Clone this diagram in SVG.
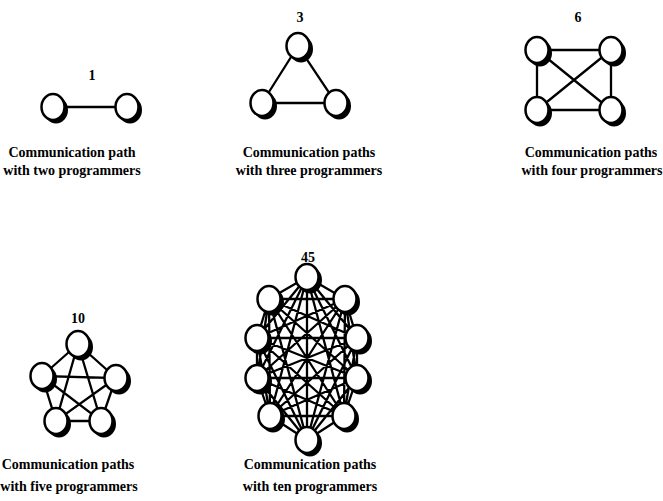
<svg xmlns="http://www.w3.org/2000/svg" xmlns:xlink="http://www.w3.org/1999/xlink" width="663" height="501" viewBox="0 0 663 501">
<style>
.lbl{font-family:"Liberation Serif","Times New Roman",serif;font-weight:bold;font-size:14px;fill:#000;text-anchor:middle}
.num{font-family:"Liberation Serif","Times New Roman",serif;font-weight:bold;font-size:14px;fill:#000;text-anchor:middle}
.e{stroke:#000;stroke-width:2.3;fill:none;stroke-linecap:round}
</style>
<defs>
<g id="nd">
<ellipse cx="3" cy="3" rx="12" ry="13.5" fill="#000"/>
<ellipse cx="0" cy="0" rx="11.5" ry="13" fill="#fff" stroke="#000" stroke-width="2.5"/>
</g>
</defs>
<rect width="663" height="501" fill="#fff"/>
<g id="connectors">
<path class="e" d="M53 107L127 107"/>
<path class="e" d="M298 46L262 103L336 103Z"/>
<path class="e" d="M537 50L611 50L611 110L537 110ZM537 50L611 110M611 50L537 110"/>
<path class="e" d="M78 344L42 376L56 421L101 421L116 378ZM78 344L56 421L116 378L42 376L101 421Z"/>
<path class="e" d="M307 277L269 299M307 277L345 299M307 277L257 338M307 277L357 338M307 277L257 378M307 277L357 378M307 277L270 416M307 277L344 416M307 277L307 440M269 299L345 299M269 299L257 338M269 299L357 338M269 299L257 378M269 299L357 378M269 299L270 416M269 299L344 416M269 299L307 440M345 299L257 338M345 299L357 338M345 299L257 378M345 299L357 378M345 299L270 416M345 299L344 416M345 299L307 440M257 338L357 338M257 338L257 378M257 338L357 378M257 338L270 416M257 338L344 416M257 338L307 440M357 338L257 378M357 338L357 378M357 338L270 416M357 338L344 416M357 338L307 440M257 378L357 378M257 378L270 416M257 378L344 416M257 378L307 440M357 378L270 416M357 378L344 416M357 378L307 440M270 416L344 416M270 416L307 440M344 416L307 440"/>
</g>
<g id="d1">
<text class="num" x="92" y="80">1</text>
<use xlink:href="#nd" x="53" y="107"/>
<use xlink:href="#nd" x="127" y="107"/>
<text class="lbl" x="72" y="157">Communication path</text>
<text class="lbl" x="72" y="175">with two programmers</text>
</g>
<g id="d2">
<text class="num" x="300" y="22">3</text>
<use xlink:href="#nd" x="298" y="46"/>
<use xlink:href="#nd" x="262" y="103"/>
<use xlink:href="#nd" x="336" y="103"/>
<text class="lbl" x="309" y="157">Communication paths</text>
<text class="lbl" x="309" y="175">with three programmers</text>
</g>
<g id="d3">
<text class="num" x="578" y="22">6</text>
<use xlink:href="#nd" x="537" y="50"/>
<use xlink:href="#nd" x="611" y="50"/>
<use xlink:href="#nd" x="537" y="110"/>
<use xlink:href="#nd" x="611" y="110"/>
<text class="lbl" x="591" y="157">Communication paths</text>
<text class="lbl" x="592" y="175">with four programmers</text>
</g>
<g id="d4">
<text class="num" x="78" y="323">10</text>
<use xlink:href="#nd" x="78" y="344"/>
<use xlink:href="#nd" x="42" y="376"/>
<use xlink:href="#nd" x="116" y="378"/>
<use xlink:href="#nd" x="56" y="421"/>
<use xlink:href="#nd" x="101" y="421"/>
<text class="lbl" x="68" y="469">Communication paths</text>
<text class="lbl" x="69" y="491">with five programmers</text>
</g>
<g id="d5">
<text class="num" x="308" y="262">45</text>
<use xlink:href="#nd" x="307" y="277"/>
<use xlink:href="#nd" x="269" y="299"/>
<use xlink:href="#nd" x="345" y="299"/>
<use xlink:href="#nd" x="257" y="338"/>
<use xlink:href="#nd" x="357" y="338"/>
<use xlink:href="#nd" x="257" y="378"/>
<use xlink:href="#nd" x="357" y="378"/>
<use xlink:href="#nd" x="270" y="416"/>
<use xlink:href="#nd" x="344" y="416"/>
<use xlink:href="#nd" x="307" y="440"/>
<text class="lbl" x="310" y="469">Communication paths</text>
<text class="lbl" x="310" y="491">with ten programmers</text>
</g>
</svg>
